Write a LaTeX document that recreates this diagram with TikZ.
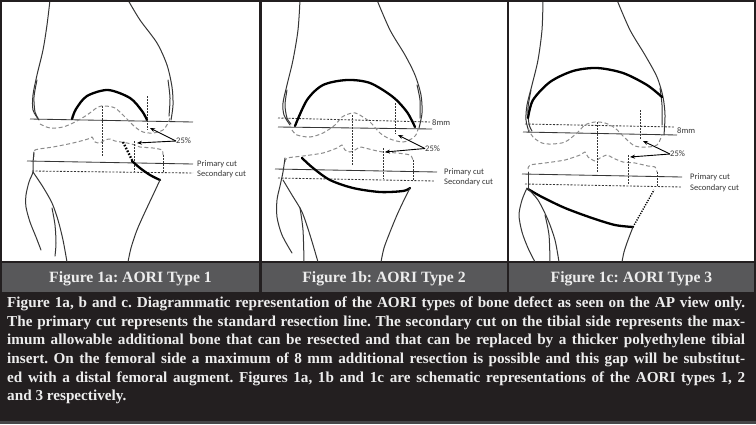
\documentclass[tikz,border=0pt]{standalone}
\usepackage{fontspec}
\setmainfont{Liberation Serif}
\newfontfamily\lblfont{Carlito}
\usetikzlibrary{arrows.meta}
\frenchspacing
\definecolor{capbg}{HTML}{231F20}
\definecolor{barbg}{HTML}{58585A}
\definecolor{outl}{HTML}{363636}
\definecolor{greyd}{HTML}{8C8C8C}
\definecolor{capfg}{HTML}{EDEDED}
\tikzset{
  bone/.style={draw=outl, line width=1pt, line cap=round, line join=round},
  thickbone/.style={draw=black, line width=2.3pt, line cap=round},
  thickdot/.style={draw=black, line width=2.3pt, dash pattern=on 1.6pt off 1.6pt},
  condyle/.style={draw=greyd, line width=1pt, dash pattern=on 4pt off 2.5pt},
  cutline/.style={draw=outl, line width=0.85pt},
  cutdash/.style={draw=outl, line width=0.85pt, dash pattern=on 2pt off 1.5pt},
  guide/.style={draw=outl, line width=0.65pt, dash pattern=on 1.5pt off 1.5pt},
  smalllbl/.style={font=\lblfont\fontsize{8.5}{9}\selectfont, text=outl, inner sep=0pt, anchor=west},
  pctarrow/.style={draw=black, line width=0.9pt, -{Stealth[length=5pt,width=4pt]}},
  barlbl/.style={font=\bfseries\fontsize{15.7}{17}\selectfont, text=capfg, inner sep=0pt, anchor=base},
  capline/.style={font=\bfseries\fontsize{15.2}{17}\selectfont, text=capfg, inner sep=0pt, anchor=base west}
}
\begin{document}
\begin{tikzpicture}[x=1pt,y=-1pt]
\useasboundingbox (0,0) rectangle (756,424);
% backgrounds
\fill[capbg] (0,0) rectangle (756,424);
\fill[white] (2,2) rectangle (259,261);
\fill[white] (261.5,2) rectangle (506.5,261);
\fill[white] (509,2) rectangle (754,261);
\fill[barbg] (2,263) rectangle (259,292);
\fill[barbg] (261.5,263) rectangle (506.5,292);
\fill[barbg] (509,263) rectangle (754,292);
\fill[barbg!80!black] (0,421) rectangle (756,424);

% ================= PANEL 1 =================
\begin{scope}
\clip (2,2) rectangle (259,261);
% femur outlines
\draw[bone] plot[smooth] coordinates {(50,0) (47,25) (43,50) (37,75) (33,95) (33,110) (39,120)};
\draw[bone] plot[smooth] coordinates {(37,80) (34,97) (35,112) (38,118)};
\draw[bone] plot[smooth] coordinates {(128,0) (140,20) (157,43) (167,65) (172,87) (173,105) (171,120)};
\draw[bone] plot[smooth] coordinates {(168,80) (170,98) (169,116)};
% femoral cut
\draw[cutline] (30,119) -- (193,122);
% defect arc
\draw[thickbone] plot[smooth] coordinates {(72,119) (76,109) (87,96) (108,90) (130,98) (142,111) (147,120)};
% condyle dashed
\draw[condyle] plot[smooth] coordinates {(40,124) (50,128) (63,127) (75,122) (87,115) (98,107) (105,106) (115,108) (125,117) (135,127) (143,132) (153,133) (163,130) (168,123) (170,118)};
% tibial plateau dashed
\draw[condyle] plot[smooth, tension=0.4] coordinates {(34,157) (35,150) (53,147) (73,143) (88,139) (92,137) (95,142) (100,143) (105,140) (110,139) (115,141) (127,143) (135,145) (140,147) (153,148) (162,150) (163,155)};
% vertical guides
\draw[guide] (102,106) -- (102,157);
\draw[guide] (147,96) -- (147,130);
\draw[guide] (134,141) -- (134,172);
\draw[guide] (163,155) -- (163,172);
% tibial cuts
\draw[cutline] (27,161) -- (193,164);
\draw[cutdash] (32,171) -- (193,173);
\node[smalllbl] (pc1) at (197,164) {Primary cut};
\node[smalllbl] (sc1) at (197,174.5) {Secondary cut};
% tibial defect
\draw[thickdot] (123,142) -- (132,160);
\draw[thickbone] plot[smooth] coordinates {(132,161) (140,168) (150,175) (160,180)};
% tibia / fibula
\draw[bone] plot[smooth] coordinates {(34,152) (33,163) (33,172) (29,182) (26,195) (26,207) (30,222) (36,237) (41,250)};
\draw[bone] plot[smooth] coordinates {(33,172) (43,187) (52,203) (58,220) (63,240) (67,262)};
\draw[bone] plot[smooth] coordinates {(52,208) (55,225) (56,243) (55,256)};
\draw[bone] plot[smooth] coordinates {(160,180) (153,195) (145,212) (137,230) (131,248) (128,262)};
% 25%
\node[smalllbl] (p1) at (176,141) {25\%};
\coordinate (p1a) at (150,128);
\coordinate (p1b) at (137,143);
\draw[pctarrow] (p1.west) -- (p1a);
\draw[pctarrow] (p1.west) -- (p1b);
\end{scope}

% ================= PANEL 2 =================
\begin{scope}
\clip (261.5,2) rectangle (506.5,261);
\draw[bone] plot[smooth] coordinates {(300,0) (298,30) (293,60) (287,85) (283,103) (284,115) (290,125)};
\draw[bone] plot[smooth] coordinates {(287,90) (285,105) (287,118) (291,124)};
\draw[bone] plot[smooth] coordinates {(377,0) (390,30) (405,55) (415,75) (421,95) (422,113) (419,128)};
\draw[bone] plot[smooth] coordinates {(417,85) (420,100) (420,118)};
% 8mm dashed + cut
\draw[cutdash] (278,118) -- (430,122);
\node[smalllbl] (e2) at (432,123) {8mm};
\draw[cutline] (278,127) -- (432,129);
% defect arc
\draw[thickbone] plot[smooth] coordinates {(295,126) (307,100) (323,85) (347,80) (370,83) (393,97) (407,112) (415,127)};
% condyle dashed
\draw[condyle] plot[smooth] coordinates {(292,130) (297,135) (310,137) (323,133) (335,125) (342,117) (352,113) (358,114) (370,122) (380,133) (390,139) (403,142) (413,138) (417,133) (418,128)};
% tibial plateau dashed
\draw[condyle] plot[smooth, tension=0.4] coordinates {(285,162) (287,158) (303,156) (323,153) (337,148) (342,145) (345,150) (350,152) (355,150) (360,147) (365,148) (373,150) (383,152) (397,153) (410,155) (413,160)};
% guides
\draw[guide] (352,115) -- (352,165);
\draw[guide] (395,103) -- (395,134);
\draw[guide] (383,148) -- (383,179);
\draw[guide] (413,160) -- (413,180);
% tibial cuts
\draw[cutline] (275,169) -- (437,172);
\draw[cutdash] (278,178) -- (435,181);
\node[smalllbl] (pc2) at (444,172) {Primary cut};
\node[smalllbl] (sc2) at (444,182) {Secondary cut};
% tibial defect
\draw[thickbone] plot[smooth] coordinates {(302,158) (313,168) (330,180) (353,188) (380,192) (403,191) (410,188)};
% tibia / fibula
\draw[bone] plot[smooth] coordinates {(285,158) (283,172) (280,186) (277,200) (277,217) (282,235) (292,253)};
\draw[bone] plot[smooth] coordinates {(283,180) (292,195) (302,212) (310,235) (318,262)};
\draw[bone] plot[smooth] coordinates {(300,208) (303,230) (304,262)};
\draw[bone] plot[smooth] coordinates {(410,188) (404,200) (397,215) (390,232) (384,248) (381,262)};
% 25%
\node[smalllbl] (p2) at (425,148.5) {25\%};
\coordinate (p2a) at (398,135);
\coordinate (p2b) at (385,152);
\draw[pctarrow] (p2.west) -- (p2a);
\draw[pctarrow] (p2.west) -- (p2b);
\end{scope}

% ================= PANEL 3 =================
\begin{scope}
\clip (509,2) rectangle (754,261);
\draw[bone] plot[smooth] coordinates {(543,0) (542,30) (538,60) (532,85) (527,105) (526,120) (529,132)};
\draw[bone] plot[smooth] coordinates {(531,90) (528,108) (529,124) (532,131)};
\draw[bone] plot[smooth] coordinates {(617,0) (630,30) (645,55) (657,77) (663,97) (665,115) (664,135)};
\draw[bone] plot[smooth] coordinates {(660,88) (662,105) (662,125)};
% defect arc
\draw[thickbone] plot[smooth] coordinates {(528,118) (533,100) (550,82) (573,71) (597,68) (623,73) (647,85) (662,97)};
% 8mm dashed + cut
\draw[cutdash] (525,124) -- (675,127);
\node[smalllbl] (e3) at (677,131) {8mm};
\draw[cutline] (523,132) -- (677,135);
% condyle dashed
\draw[condyle] plot[smooth] coordinates {(528,128) (533,137) (542,143) (552,144) (565,142) (577,133) (585,125) (595,122) (605,123) (615,128) (625,138) (635,146) (648,147) (657,145) (660,140) (662,135)};
% tibial plateau dashed
\draw[condyle] plot[smooth, tension=0.4] coordinates {(528,169) (530,165) (545,163) (565,160) (580,155) (585,152) (588,157) (595,161) (600,158) (607,155) (613,158) (623,162) (635,163) (648,166) (655,167) (657,172)};
% guides
\draw[guide] (597,122) -- (597,172);
\draw[guide] (640,110) -- (640,140);
\draw[guide] (628,155) -- (628,185);
\draw[guide] (657,172) -- (657,186);
% tibial cuts
\draw[cutline] (522,174) -- (682,177);
\draw[cutdash] (525,184) -- (682,187);
\node[smalllbl] (pc3) at (690,177) {Primary cut};
\node[smalllbl] (sc3) at (690,188) {Secondary cut};
% tibial defect
\draw[thickbone] plot[smooth] coordinates {(528,189) (542,197) (565,208) (592,218) (615,225) (633,227)};
\draw[draw=black, line width=1.4pt, dash pattern=on 1.2pt off 1.3pt] (633,227) -- (654,190);
% tibia / fibula
\draw[bone] (528,172) -- (528,189);
\draw[bone] plot[smooth] coordinates {(527,188) (522,200) (519,215) (522,232) (528,248) (535,262)};
\draw[bone] plot[smooth] coordinates {(528,189) (538,200) (548,220) (555,240) (559,262)};
\draw[bone] plot[smooth] coordinates {(545,215) (549,235) (550,262)};
\draw[bone] plot[smooth] coordinates {(633,227) (628,240) (624,252) (622,262)};
% 25%
\node[smalllbl] (p3) at (670,154) {25\%};
\coordinate (p3a) at (643,141);
\coordinate (p3b) at (630,157);
\draw[pctarrow] (p3.west) -- (p3a);
\draw[pctarrow] (p3.west) -- (p3b);
\end{scope}

% ================= BAR LABELS =================
\node[barlbl] (b1) at (130.5,282) {Figure 1a: AORI Type 1};
\node[barlbl] (b2) at (384,282) {Figure 1b: AORI Type 2};
\node[barlbl] (b3) at (631.5,282) {Figure 1c: AORI Type 3};

% ================= CAPTION =================
\node[capline] (c1) at (7,307.3) {\makebox[738pt][s]{Figure 1a, b and c. Diagrammatic representation of the AORI types of bone defect as seen on the AP view only.}};
\node[capline] (c2) at (7,326) {\makebox[738pt][s]{The primary cut represents the standard resection line. The secondary cut on the tibial side represents the max-}};
\node[capline] (c3) at (7,344.7) {\makebox[738pt][s]{imum allowable additional bone that can be resected and that can be replaced by a thicker polyethylene tibial}};
\node[capline] (c4) at (7,363.4) {\makebox[738pt][s]{insert. On the femoral side a maximum of 8 mm additional resection is possible and this gap will be substitut-}};
\node[capline] (c5) at (7,382) {\makebox[738pt][s]{ed with a distal femoral augment. Figures 1a, 1b and 1c are schematic representations of the AORI types 1, 2}};
\node[capline] (c6) at (7,400.7) {and 3 respectively.};
\end{tikzpicture}
\end{document}
